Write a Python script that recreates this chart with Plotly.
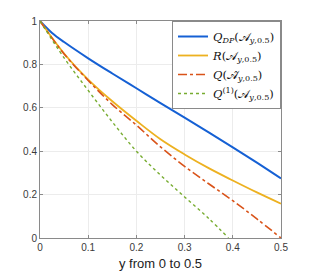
import plotly.graph_objects as go

# Data
x_dp = [0, 0.025, 0.05, 0.1, 0.15, 0.2, 0.25, 0.3, 0.35, 0.4, 0.45, 0.5]
q_dp = [1, 0.945, 0.903, 0.828, 0.758, 0.69, 0.622, 0.555, 0.487, 0.418, 0.347, 0.274]

x_std = [0, 0.05, 0.1, 0.15, 0.2, 0.25, 0.3, 0.35, 0.4, 0.45, 0.5]
r_vals = [1, 0.85, 0.73, 0.63, 0.54, 0.455, 0.385, 0.322, 0.265, 0.21, 0.158]
q_hat = [1, 0.848, 0.726, 0.615, 0.52, 0.42, 0.33, 0.25, 0.172, 0.088, 0]

x_q1 = [0, 0.05, 0.1, 0.15, 0.2, 0.25, 0.3, 0.35, 0.391]
q1_vals = [1, 0.83, 0.68, 0.535, 0.40, 0.29, 0.189, 0.09, 0]

x_ticks = [0, 0.1, 0.2, 0.3, 0.4, 0.5]
x_ticklabels = ["0", "0.1", "0.2", "0.3", "0.4", "0.5"]
y_ticks = [0, 0.2, 0.4, 0.6, 0.8, 1]
y_ticklabels = ["0", "0.2", "0.4", "0.6", "0.8", "1"]

names = [
    "<i>Q</i><sub><i>DP</i></sub>(𝒜<sub><i>y</i>,0.5</sub>)",
    "<i>R</i>(𝒜<sub><i>y</i>,0.5</sub>)",
    "<i>Q</i>(𝒜\u0302<sub><i>y</i>,0.5</sub>)",
    "<i>Q</i><sup>(1)</sup>(𝒜<sub><i>y</i>,0.5</sub>)",
]

fig = go.Figure()
fig.add_trace(go.Scatter(x=x_dp, y=q_dp, mode="lines", name=names[0],
                         line=dict(color="#1560d4", width=2, shape="spline")))
fig.add_trace(go.Scatter(x=x_std, y=r_vals, mode="lines", name=names[1],
                         line=dict(color="#EDB120", width=1.8, shape="spline")))
fig.add_trace(go.Scatter(x=x_std, y=q_hat, mode="lines", name=names[2],
                         line=dict(color="#D95319", width=1.6, dash="dashdot", shape="spline")))
fig.add_trace(go.Scatter(x=x_q1, y=q1_vals, mode="lines", name=names[3],
                         line=dict(color="#77AC30", width=1.4, dash="dot", shape="spline")))

axis_common = dict(
    showline=True, mirror="ticks", linecolor="#8a8a8a", linewidth=1,
    ticks="inside", ticklen=3, tickcolor="#8a8a8a",
    showgrid=True, gridcolor="#ececec", gridwidth=1,
    zeroline=False, automargin=False,
    tickfont=dict(family="Liberation Sans, Arial, sans-serif", size=10, color="#3a3a3a"),
)

fig.update_layout(
    width=310, height=273,
    margin=dict(l=40, r=29, t=21, b=35),
    paper_bgcolor="white", plot_bgcolor="white",
    showlegend=True,
    legend=dict(
        x=1, y=1, xanchor="right", yanchor="top",
        bgcolor="white", bordercolor="#8a8a8a", borderwidth=1,
        font=dict(family="DejaVu Serif, Liberation Serif, serif", size=11.5, color="#111"),
        tracegroupgap=0, itemwidth=30,
    ),
    xaxis=dict(range=[0, 0.5], tickvals=x_ticks, ticktext=x_ticklabels,
               title=dict(text="y from 0 to 0.5", standoff=6,
                          font=dict(family="Liberation Sans, Arial, sans-serif", size=13, color="#222")),
               **axis_common),
    yaxis=dict(range=[0, 1], tickvals=y_ticks, ticktext=y_ticklabels, **axis_common),
)

fig.write_html("out.html", config={"displayModeBar": False},
               post_script="document.body.style.margin='0';")
